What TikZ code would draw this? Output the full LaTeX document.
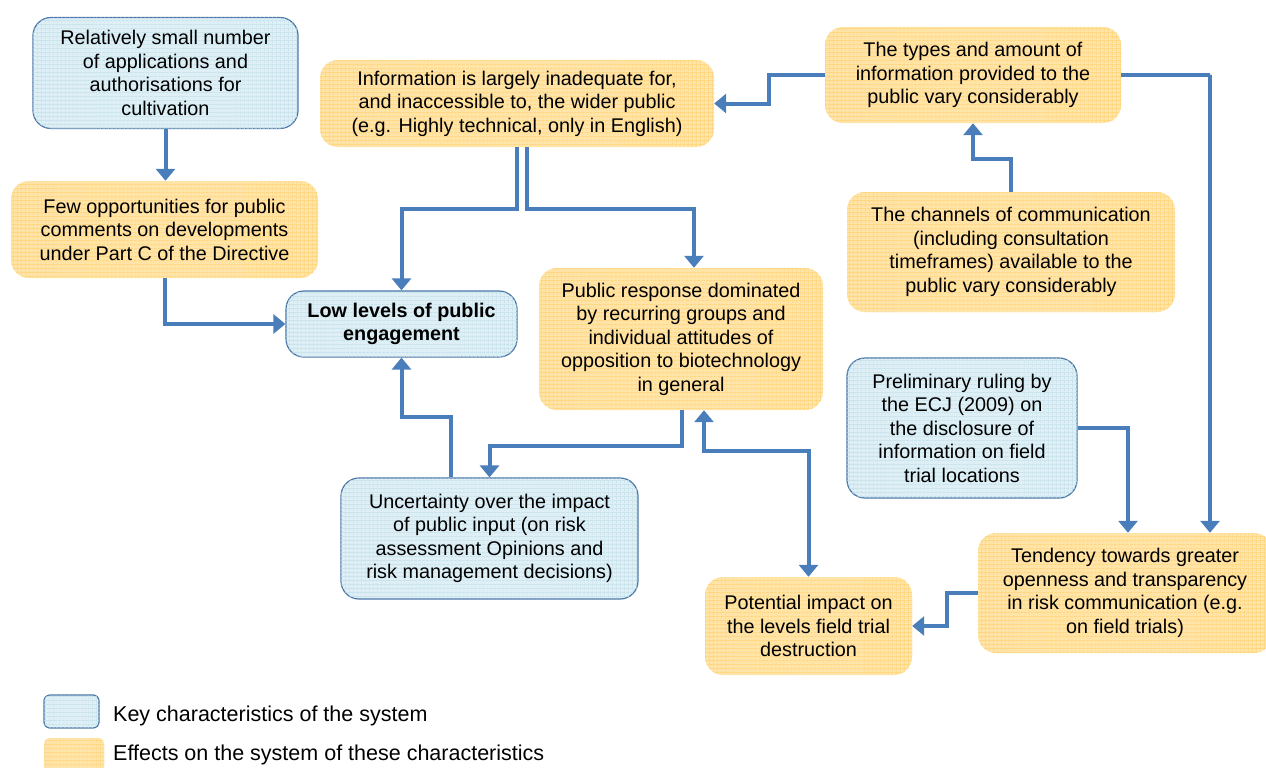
\documentclass[tikz,border=0pt]{standalone}
\usepackage{fontspec}
\setmainfont{Liberation Sans}
\usetikzlibrary{arrows.meta,patterns.meta,calc}
\definecolor{orfill}{HTML}{FFE4A6}
\definecolor{orgrid}{HTML}{FFD06E}
\definecolor{blfill}{HTML}{DEF0F6}
\definecolor{blgrid}{HTML}{BEDDE9}
\definecolor{blborder}{HTML}{4A76A8}
\definecolor{arrcol}{HTML}{4A7EBB}
\tikzset{
  gridfill/.style 2 args={fill=#1,
    postaction={pattern={Lines[distance=4pt,angle=0,line width=0.7pt]},pattern color=#2},
    postaction={pattern={Lines[distance=4pt,angle=90,line width=0.7pt]},pattern color=#2}},
  boxbase/.style={rounded corners=18pt, align=center, inner sep=0pt,
    font=\fontsize{19.8}{23.5}\selectfont, text=black},
  bluebox/.style={boxbase, gridfill={blfill}{blgrid}, draw=blborder, line width=1.2pt},
  orangebox/.style={boxbase, gridfill={orfill}{orgrid}},
  arr/.style={draw=arrcol, line width=4pt, -{Triangle[width=19pt,length=12pt]}},
  dblarr/.style={draw=arrcol, line width=4pt, {Triangle[width=19pt,length=12pt]}-{Triangle[width=19pt,length=12pt]}},
  legtext/.style={anchor=west, inner sep=0pt, font=\fontsize{21.5}{25}\selectfont}
}
\begin{document}
\begin{tikzpicture}[x=1pt,y=-1pt]
\useasboundingbox (0,0) rectangle (1266,768);
% boxes
\node[bluebox, minimum width=265pt, minimum height=111pt] (b1) at (165.5,73)
  {Relatively small number\\of applications and\\authorisations for\\cultivation};
\node[orangebox, minimum width=307pt, minimum height=97pt] (o2) at (164.5,229.5)
  {Few opportunities for public\\comments on developments\\under Part C of the Directive};
\node[bluebox, minimum width=231pt, minimum height=66pt, font=\fontsize{19.8}{23.5}\selectfont\bfseries] (b3) at (401.5,324)
  {Low levels of public\\engagement};
\node[orangebox, minimum width=394pt, minimum height=87pt] (o4) at (517,103.5)
  {Information is largely inadequate for,\\and inaccessible to, the wider public\\(e.g. Highly technical, only in English)};
\node[orangebox, minimum width=296pt, minimum height=96pt] (o5) at (973,75)
  {The types and amount of\\information provided to the\\public vary considerably};
\node[orangebox, minimum width=328pt, minimum height=120pt] (o6) at (1011,252)
  {The channels of communication\\(including consultation\\timeframes) available to the\\public vary considerably};
\node[orangebox, minimum width=284pt, minimum height=142pt] (o7) at (681,339)
  {Public response dominated\\by recurring groups and\\individual attitudes of\\opposition to biotechnology\\in general};
\node[bluebox, minimum width=230pt, minimum height=140pt] (b8) at (962,428)
  {Preliminary ruling by\\the ECJ (2009) on\\the disclosure of\\information on field\\trial locations};
\node[bluebox, minimum width=297pt, minimum height=121pt] (b9) at (489.5,538.5)
  {Uncertainty over the impact\\of public input (on risk\\assessment Opinions and\\risk management decisions)};
\node[orangebox, minimum width=207pt, minimum height=98pt] (o10) at (808.5,626)
  {Potential impact on\\the levels field trial\\destruction};
\node[orangebox, minimum width=294pt, minimum height=120pt] (o11) at (1125,593)
  {Tendency towards greater\\openness and transparency\\in risk communication (e.g.\\on field trials)};
% connectors
\draw[arr] (b1.south) -- (b1.south |- o2.north);
\draw[arr] (o2.south) |- (b3.west);
\draw[arr] (o4.south) -- ++(0,62) -| (b3.north);
\draw[arr] ([xshift=10pt]o4.south) -- ++(0,62) -| ([xshift=13pt]o7.north);
\draw[arr] (o5.west) -- ++(-56,0) |- (o4.east);
\draw[arr] (o6.north) -- ++(0,-33) -| (o5.south);
\draw[arr] (o5.east) -- ++(89,0) -| ([xshift=85pt]o11.north);
\draw[arr] (b8.east) -| ([xshift=3pt]o11.north);
\draw[arr] ([xshift=1pt]o7.south) -- ++(0,36) -| (b9.north);
\draw[arr] ([xshift=-38.5pt]b9.north) -- ++(0,-60) -| (b3.south);
\draw[dblarr] ([xshift=23pt]o7.south) -- ++(0,41) -| (o10.north);
\draw[arr] (o11.west) -- ++(-31,0) |- (o10.east);
% legend
\node[draw=blborder, line width=1.2pt, gridfill={blfill}{blgrid}, rounded corners=6pt,
  minimum width=55pt, minimum height=33pt, inner sep=0pt] (lb) at (71.5,711.5) {};
\node[gridfill={orfill}{orgrid}, rounded corners=6pt,
  minimum width=60pt, minimum height=34pt, inner sep=0pt] (lo) at (74,755) {};
\node[legtext] (lbt) at (113,716) {Key characteristics of the system};
\node[legtext] (lot) at (113,755) {Effects on the system of these characteristics};
\end{tikzpicture}
\end{document}
